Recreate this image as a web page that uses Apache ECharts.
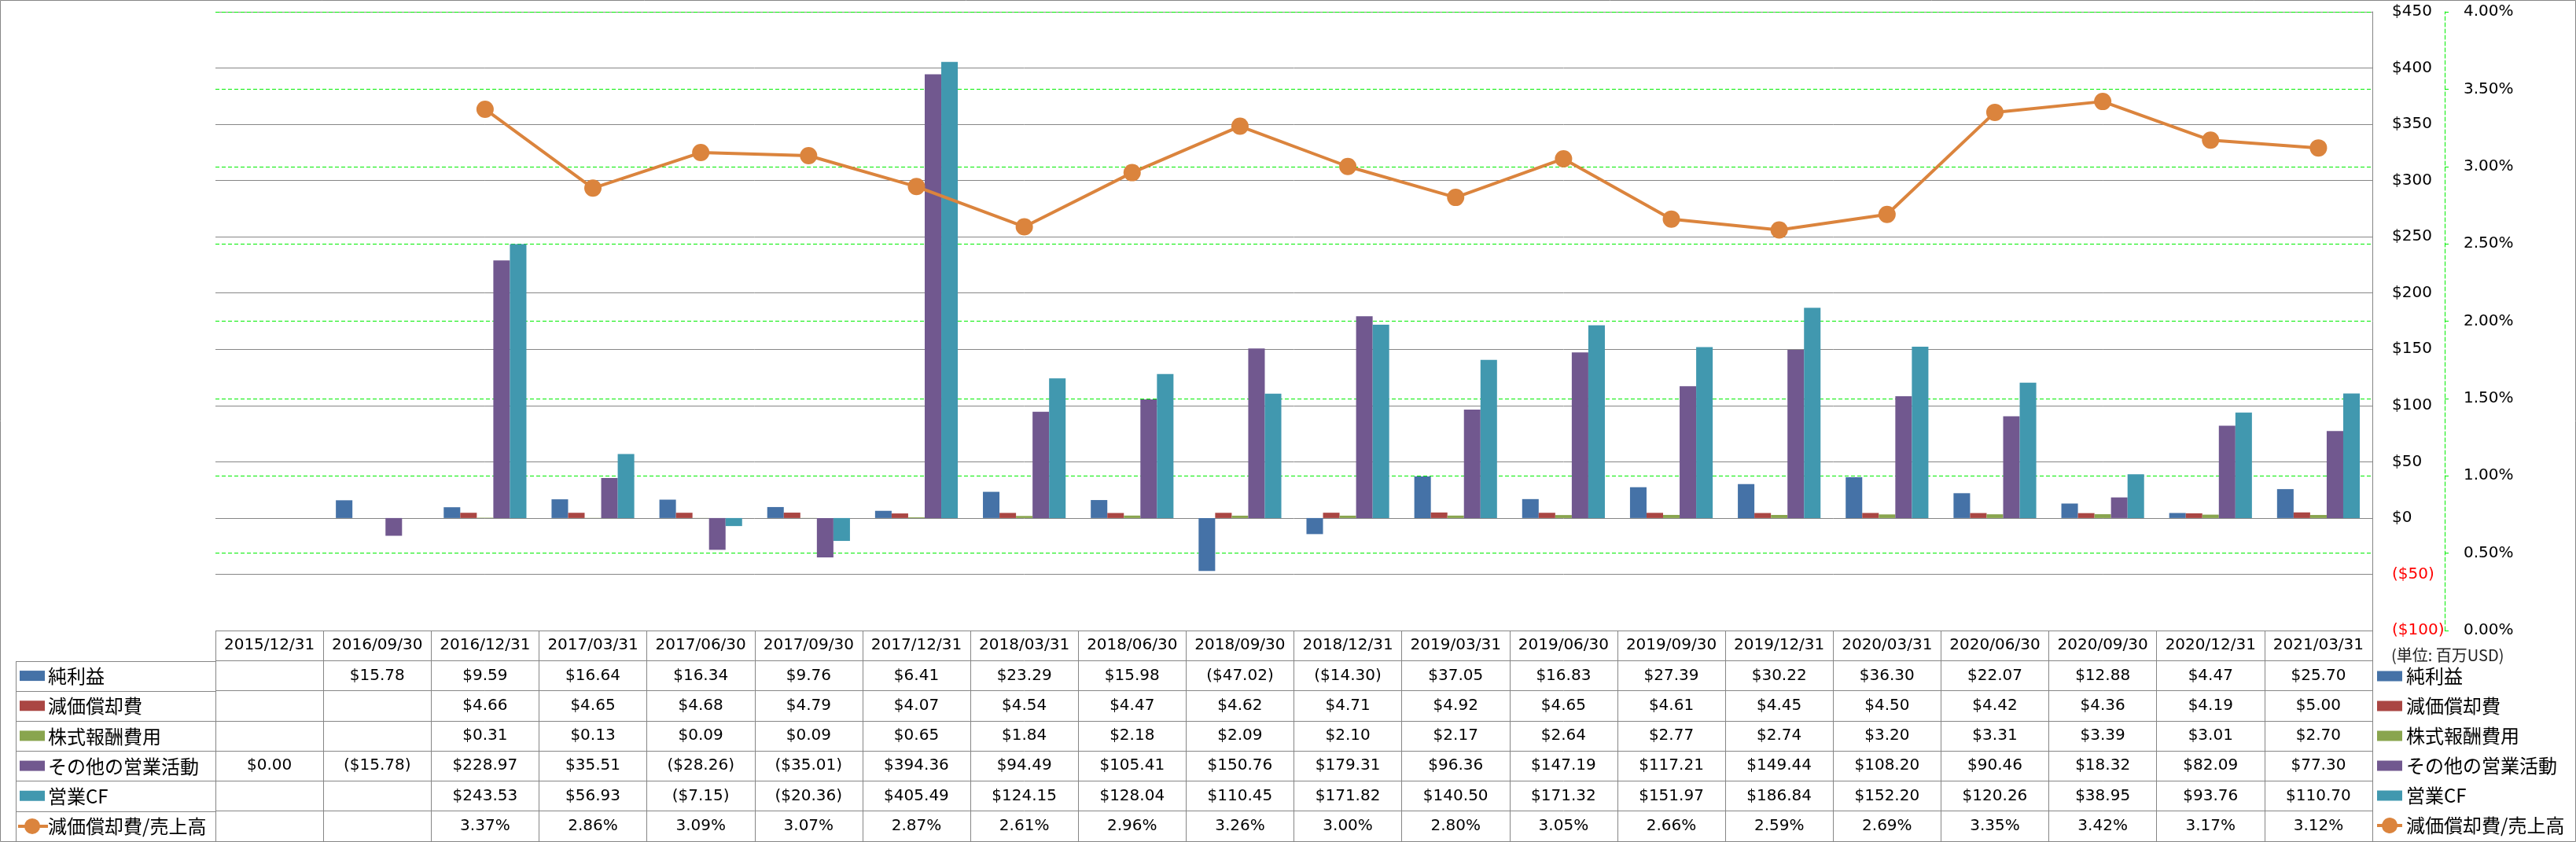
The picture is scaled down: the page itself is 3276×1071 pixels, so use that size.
<!DOCTYPE html>
<html>
<head>
<meta charset="utf-8">
<script src="https://cdn.jsdelivr.net/npm/echarts@6.0.0/dist/echarts.min.js"></script>
<style>
html, body { margin: 0; padding: 0; background: #fff; }
#chart { width: 3276px; height: 1071px; }
</style>
</head>
<body>
<div id="chart"></div>
<script>
// 期末日
var dates = ['2015/12/31','2016/09/30','2016/12/31','2017/03/31','2017/06/30','2017/09/30','2017/12/31',
  '2018/03/31','2018/06/30','2018/09/30','2018/12/31','2019/03/31','2019/06/30','2019/09/30',
  '2019/12/31','2020/03/31','2020/06/30','2020/09/30','2020/12/31','2021/03/31'];

// 単位: 百万USD
var netIncome    = [null,15.78,9.59,16.64,16.34,9.76,6.41,23.29,15.98,-47.02,-14.30,37.05,16.83,27.39,30.22,36.30,22.07,12.88,4.47,25.70];
var depreciation = [null,null,4.66,4.65,4.68,4.79,4.07,4.54,4.47,4.62,4.71,4.92,4.65,4.61,4.45,4.50,4.42,4.36,4.19,5.00];
var stockComp    = [null,null,0.31,0.13,0.09,0.09,0.65,1.84,2.18,2.09,2.10,2.17,2.64,2.77,2.74,3.20,3.31,3.39,3.01,2.70];
var otherOps     = [0.00,-15.78,228.97,35.51,-28.26,-35.01,394.36,94.49,105.41,150.76,179.31,96.36,147.19,117.21,149.44,108.20,90.46,18.32,82.09,77.30];
var operatingCF  = [null,null,243.53,56.93,-7.15,-20.36,405.49,124.15,128.04,110.45,171.82,140.50,171.32,151.97,186.84,152.20,120.26,38.95,93.76,110.70];
// 減価償却費/売上高 (%)
var deprRatio    = [null,null,3.37,2.86,3.09,3.07,2.87,2.61,2.96,3.26,3.00,2.80,3.05,2.66,2.59,2.69,3.35,3.42,3.17,3.12];

var names = ['純利益','減価償却費','株式報酬費用','その他の営業活動','営業CF','減価償却費/売上高'];
var colors = ['#4572A7','#AA4643','#89A54E','#71588F','#4198AF','#DB843D'];

var gray = '#868686';
var green = '#00ee00';
var numFont = 'DejaVu Sans';
var jpFont = "'Noto Sans CJK JP', sans-serif";

// 凡例アイコン (32x20の枠)
var barIcon = 'path://M0,0M32,20M0,3.5L32,3.5L32,16.5L0,16.5Z';
var lineIcon = 'path://M0,8L6.2,8A10,10 0 0 1 25.8,8L32,8L32,12L25.8,12A10,10 0 0 1 6.2,12L0,12Z';

function money(v) {
  if (v == null) return '';
  return v < 0 ? '($' + (-v).toFixed(2) + ')' : '$' + v.toFixed(2);
}
function pct(v) {
  return v == null ? '' : v.toFixed(2) + '%';
}

// データテーブルのセル
var barData = [netIncome, depreciation, stockComp, otherOps, operatingCF];
var cells = [], cellText = [];
for (var c = 0; c < dates.length; c++) {
  cells.push([c, 0]); cellText.push(dates[c]);
  for (var s = 0; s < 5; s++) {
    if (barData[s][c] != null) { cells.push([c, s + 1]); cellText.push(money(barData[s][c])); }
  }
  if (deprRatio[c] != null) { cells.push([c, 6]); cellText.push(pct(deprRatio[c])); }
}

var myChart = echarts.init(document.getElementById('chart'));

var series = [];
for (var i = 0; i < 5; i++) {
  series.push({
    name: names[i],
    type: 'bar',
    xAxisIndex: 0, yAxisIndex: 0,
    barGap: '0%',
    barCategoryGap: '23.3%',
    itemStyle: { color: colors[i] },
    data: barData[i]
  });
}
series.push({
  name: names[5],
  type: 'line',
  xAxisIndex: 0, yAxisIndex: 1,
  symbol: 'circle',
  symbolSize: 22,
  itemStyle: { color: colors[5] },
  lineStyle: { color: colors[5], width: 4 },
  z: 5,
  data: deprRatio
});
// テーブルの値
series.push({
  type: 'custom',
  xAxisIndex: 1, yAxisIndex: 2,
  silent: true,
  data: cells,
  renderItem: function (params, api) {
    var p = api.coord([api.value(0), api.value(1)]);
    return {
      type: 'text', x: p[0], y: p[1],
      style: { text: cellText[params.dataIndex], fill: '#000', fontSize: 20, fontFamily: numFont, align: 'center', verticalAlign: 'middle' }
    };
  }
});
// テーブル左列 (凡例キー)
series.push({
  type: 'custom',
  xAxisIndex: 2, yAxisIndex: 3,
  silent: true,
  data: names.map(function (n, k) { return [0, k]; }),
  renderItem: function (params, api) {
    var k = params.dataIndex;
    var p = api.coord([0, k]);
    var x0 = params.coordSys.x + 5;
    var kids = [];
    if (k < 5) {
      kids.push({ type: 'rect', shape: { x: x0, y: p[1] - 7, width: 32, height: 13 }, style: { fill: colors[k] } });
    } else {
      kids.push({ type: 'line', shape: { x1: x0 - 2, y1: p[1], x2: x0 + 36, y2: p[1] }, style: { stroke: colors[5], lineWidth: 4 } });
      kids.push({ type: 'circle', shape: { cx: x0 + 16, cy: p[1], r: 10 }, style: { fill: colors[5] } });
    }
    kids.push({
      type: 'text', x: x0 + 36, y: p[1],
      style: { text: names[k], fill: '#000', fontSize: 24, fontFamily: jpFont, align: 'left', verticalAlign: 'middle' }
    });
    return { type: 'group', children: kids };
  }
});

var option = {
  animation: false,
  backgroundColor: '#fff',
  title: {
    text: '(単位: 百万USD)',
    left: 3036, top: 818,
    textStyle: { fontSize: 20, fontWeight: 'normal', color: '#222', fontFamily: jpFont }
  },
  legend: {
    orient: 'vertical',
    left: 3023, top: 841,
    padding: 0,
    height: 230,
    itemWidth: 32, itemHeight: 20, itemGap: 0,
    textStyle: { fontSize: 24, lineHeight: 38, color: '#000', fontFamily: jpFont },
    data: [
      { name: names[0], icon: barIcon },
      { name: names[1], icon: barIcon },
      { name: names[2], icon: barIcon },
      { name: names[3], icon: barIcon },
      { name: names[4], icon: barIcon },
      { name: names[5], icon: lineIcon, itemStyle: { borderWidth: 0 } }
    ]
  },
  graphic: [{
    type: 'rect',
    shape: { x: 0.5, y: 0.5, width: 3275, height: 1070 },
    style: { fill: null, stroke: gray, lineWidth: 1 },
    silent: true
  }],
  grid: [
    { left: 274, right: 259, top: 15, height: 787 },
    { left: 274, right: 259, top: 802, height: 268 },
    { left: 20, width: 254, top: 841, height: 229 }
  ],
  xAxis: [
    { type: 'category', gridIndex: 0, data: dates, axisLabel: { show: false }, axisLine: { show: false }, axisTick: { show: false } },
    { type: 'category', gridIndex: 1, data: dates, axisLabel: { show: false }, axisLine: { show: false }, axisTick: { show: false },
      splitLine: { show: true, lineStyle: { color: gray, width: 1 } } },
    { type: 'category', gridIndex: 2, data: ['key'], axisLabel: { show: false }, axisLine: { show: false }, axisTick: { show: false },
      splitLine: { show: true, lineStyle: { color: gray, width: 1 } } }
  ],
  yAxis: [
    { type: 'value', gridIndex: 0, position: 'right', min: -100, max: 450, interval: 50,
      axisLine: { show: true, lineStyle: { color: gray, width: 1 } },
      axisTick: { show: false },
      axisLabel: {
        margin: 25, fontSize: 20, fontFamily: numFont, color: '#000',
        formatter: function (v) { return v < 0 ? '{neg|($' + (-v) + ')}' : '$' + v; },
        rich: { neg: { color: '#ff0000', fontSize: 20, fontFamily: numFont } }
      },
      splitLine: { show: true, lineStyle: { color: gray, width: 1 } } },
    { type: 'value', gridIndex: 0, position: 'right', offset: 92, min: 0, max: 4, interval: 0.5,
      axisLine: { show: true, lineStyle: { color: green, width: 1, type: [5, 3] } },
      axisTick: { show: true, length: 8, lineStyle: { color: green, width: 1, type: [5, 3] } },
      axisLabel: { margin: 24, fontSize: 20, fontFamily: numFont, color: '#000',
        formatter: function (v) { return v.toFixed(2) + '%'; } },
      splitLine: { show: true, lineStyle: { color: green, width: 1, type: [5, 3] } } },
    { type: 'category', gridIndex: 1, inverse: true, data: ['date'].concat(names),
      axisLabel: { show: false }, axisLine: { show: false }, axisTick: { show: false },
      splitLine: { show: true, lineStyle: { color: gray, width: 1 } } },
    { type: 'category', gridIndex: 2, inverse: true, data: names,
      axisLabel: { show: false }, axisLine: { show: false }, axisTick: { show: false },
      splitLine: { show: true, lineStyle: { color: gray, width: 1 } } }
  ],
  series: series
};
myChart.setOption(option);
</script>
</body>
</html>
